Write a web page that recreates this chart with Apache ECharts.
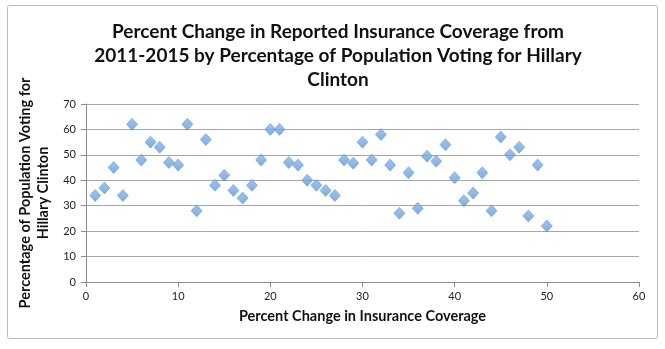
<!DOCTYPE html>
<html>
<head>
<meta charset="utf-8">
<script src="https://cdn.jsdelivr.net/npm/echarts@6/dist/echarts.min.js"></script>
<style>
  html, body { margin: 0; padding: 0; background: #fff; }
  #chart { width: 665px; height: 349px; }
</style>
</head>
<body>
<div id="chart"></div>
<script>
// Percent change in insurance coverage (x) vs. share of vote for Clinton (y)
const coverageChange = [
  1, 2, 3, 4, 5, 6, 7, 8, 9, 10,
  11, 12, 13, 14, 15, 16, 17, 18, 19, 20,
  21, 22, 23, 24, 25, 26, 27, 28, 29, 30,
  31, 32, 33, 34, 35, 36, 37, 38, 39, 40,
  41, 42, 43, 44, 45, 46, 47, 48, 49, 50
];
const clintonShare = [
  34, 37, 45, 34, 62, 48, 55, 53, 47, 46,
  62, 28, 56, 38, 42, 36, 33, 38, 48, 60,
  60, 47, 46, 40, 38, 36, 34, 48, 46.7, 55,
  48, 58, 46, 27, 43, 29, 49.5, 47.5, 54, 41,
  32, 35, 43, 28, 57, 50, 53, 26, 46, 22
];
const xTicks = [0, 10, 20, 30, 40, 50, 60];
const yTicks = [0, 10, 20, 30, 40, 50, 60, 70];

const points = coverageChange.map((x, i) => [x, clintonShare[i]]);

const chart = echarts.init(document.getElementById('chart'));
const labelFont = { fontFamily: 'Lato', fontSize: 11, color: '#222' };
const nameFont = { fontFamily: 'Lato', fontWeight: 'bold', fontSize: 14.5, color: '#111' };

chart.setOption({
  animation: false,
  backgroundColor: '#fff',
  graphic: [{
    type: 'rect',
    shape: { x: 7.5, y: 5.5, width: 650, height: 333, r: 2 },
    style: { fill: 'none', stroke: '#bdbdbd', lineWidth: 1 },
    silent: true,
    z: -1
  }],
  title: {
    text: 'Percent Change in Reported Insurance Coverage from\n2011-2015 by Percentage of Population Voting for Hillary\nClinton',
    left: 333,
    top: 15,
    textAlign: 'center',
    textStyle: {
      fontFamily: 'Lato', fontWeight: 'bold', fontSize: 19,
      lineHeight: 24, color: '#111'
    }
  },
  grid: { left: 86, right: 26, top: 104, bottom: 67 },
  xAxis: {
    type: 'value',
    min: xTicks[0], max: xTicks[xTicks.length - 1], interval: 10,
    name: 'Percent Change in Insurance Coverage',
    nameLocation: 'middle', nameGap: 27,
    nameTextStyle: nameFont,
    axisLine: { show: true, lineStyle: { color: '#8c8c8c', width: 1 } },
    axisTick: { show: true, inside: false, length: 5, lineStyle: { color: '#8c8c8c' } },
    axisLabel: Object.assign({ margin: 9 }, labelFont),
    splitLine: { show: false }
  },
  yAxis: {
    type: 'value',
    min: yTicks[0], max: yTicks[yTicks.length - 1], interval: 10,
    name: 'Percentage of Population Voting for\nHillary Clinton',
    nameLocation: 'middle', nameGap: 21,
    nameTextStyle: Object.assign({ lineHeight: 18, align: 'center' }, nameFont),
    axisLine: { show: true, lineStyle: { color: '#8c8c8c', width: 1 } },
    axisTick: { show: true, inside: false, length: 5, lineStyle: { color: '#8c8c8c' } },
    axisLabel: Object.assign({ margin: 10 }, labelFont),
    splitLine: { show: true, lineStyle: { color: '#a6a6a6', width: 1 } }
  },
  series: [{
    type: 'scatter',
    data: points,
    symbol: 'diamond',
    symbolSize: [11, 12],
    itemStyle: {
      color: new echarts.graphic.LinearGradient(0, 0, 0, 1, [
        { offset: 0, color: '#86b6e8' },
        { offset: 1, color: '#5f98d8' }
      ]),
      borderColor: '#4f86c6',
      borderWidth: 0.6
    }
  }]
});
</script>
</body>
</html>
